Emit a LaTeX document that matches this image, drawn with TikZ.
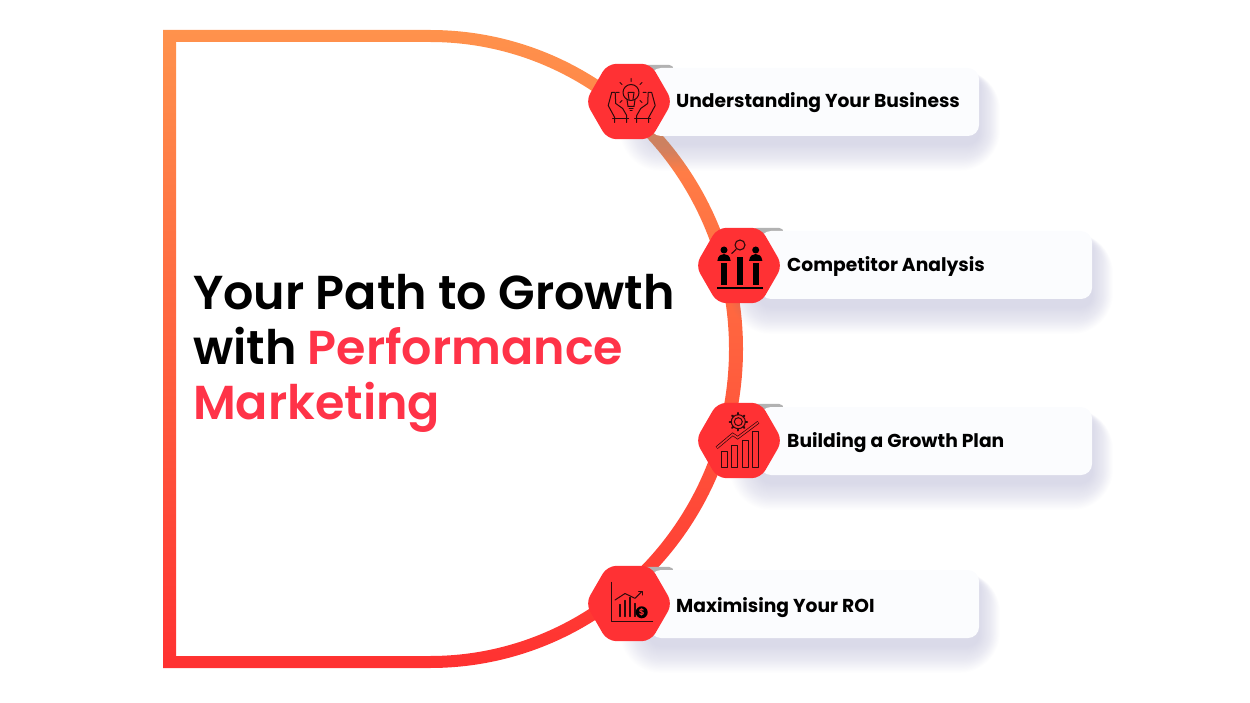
\documentclass[tikz,border=0pt]{standalone}
\usepackage{fontspec}
\setmainfont{Poppins}[BoldFont={Poppins SemiBold}]
\newfontfamily\labelfont{Poppins}[UprightFont={Poppins Bold}]
\usepackage{tikz}
\usetikzlibrary{shapes.geometric}
\usetikzlibrary{arrows,positioning,backgrounds}
\definecolor{ringtop}{RGB}{255,146,76}
\definecolor{ringbottom}{RGB}{255,49,49}
\definecolor{hexred}{RGB}{255,49,52}
\definecolor{titlered}{RGB}{255,51,72}
\definecolor{cardwhite}{RGB}{251,252,254}
\definecolor{shadowtone}{RGB}{130,130,180}
\definecolor{icondark}{RGB}{45,10,12}
\tikzset{
  hexa/.style={regular polygon,regular polygon sides=6,minimum size=87pt,inner sep=0pt,
    rounded corners=9pt,fill=hexred},
  card/.style={rounded corners=11pt,fill=cardwhite,inner sep=0pt,minimum height=68pt},
  cardtext/.style={font=\fontsize{18.7}{22}\labelfont,text=black,inner sep=0pt},
  iconline/.style={draw=icondark,line width=1pt,line cap=round,line join=round},
  iconsolid/.style={fill=black}
}
\newcommand{\cardshadow}[1]{%
  \foreach \g in {1,2,...,30}
    \fill[shadowtone,opacity=0.012,rounded corners=\g*1pt+11pt]
      ([shift={(-\g pt,-\g*0.9pt-8pt)}]#1.south west) rectangle ([shift={(\g*0.7pt,\g*0.2pt-8pt)}]#1.north east);
  \fill[black!30,rounded corners=5pt] ([shift={(-8pt,3pt)}]#1.north west) rectangle ([shift={(24pt,-8pt)}]#1.north west);
}
\begin{document}
\begin{tikzpicture}[x=1pt,y=-1pt]
  \useasboundingbox (0,0) rectangle (1250,703);
%
  \node[card,minimum width=329pt] (card1) at (814.5,102) {};
  \node[card,minimum width=332pt] (card2) at (926,265) {};
  \node[card,minimum width=332pt] (card3) at (926,441) {};
  \node[card,minimum width=329pt] (card4) at (814.5,604) {};
%
  \node[hexa] (hexa1) at (629,101.5) {};
  \node[hexa] (hexa2) at (739,265.5) {};
  \node[hexa] (hexa3) at (739,440.5) {};
  \node[hexa] (hexa4) at (629,603.5) {};
%
  \node[cardtext,anchor=base west] (label1) at (676,108) {Understanding Your Business};
  \node[cardtext,anchor=base west] (label2) at (787,271.5) {Competitor Analysis};
  \node[cardtext,anchor=base west] (label3) at (787,447.5) {Building a Growth Plan};
  \node[cardtext,anchor=base west] (label4) at (676,612) {Maximising Your ROI};
%
  \node[anchor=west,align=left,inner sep=0pt,font=\fontsize{47.6}{55}\selectfont\bfseries] (title) at (193,353.5)
    {Your Path to Growth\\with \textcolor{titlered}{Performance}\\\textcolor{titlered}{Marketing}};
%
  \begin{scope}[on background layer]
    \shade[top color=ringtop,bottom color=ringbottom,even odd rule]
      (163,30) -- (430,30) arc [start angle=90,end angle=-90,x radius=313pt,y radius=319pt]
      -- (163,668) -- cycle
      (176,42) -- (430,42) arc [start angle=90,end angle=-90,x radius=299pt,y radius=307pt]
      -- (176,656) -- cycle;
    \cardshadow{card1}
    \cardshadow{card2}
    \cardshadow{card3}
    \cardshadow{card4}
  \end{scope}
%
  % bulb and hands
  \begin{scope}[shift={(hexa1.center)}]
    \draw[iconline] (2,-9) circle (8);
    \draw[iconline] (-2,-2) -- (-1,5) -- (5,5) -- (6,-2);
    \draw[iconline] (-1,-9) -- (0,-2) (5,-9) -- (4,-2) (-1,-9) -- (5,-9);
    \draw[iconline] (0,7) -- (4,7) (1,9) -- (3,9);
    \draw[iconline] (2,-20) -- (2,-23) (-7,-17) -- (-9,-19) (11,-17) -- (13,-19)
      (-10,-9) -- (-13,-9) (14,-9) -- (17,-9) (-7,-1) -- (-9,1) (11,-1) -- (13,1);
    \foreach \s in {1,-1} {
      \begin{scope}[xshift=2.7pt,xscale=\s]
        \draw[iconline] (-20,-9) -- (-23.5,4) -- (-17,16) -- (-17,21);
        \draw[iconline] (-20,-9) -- (-16.5,-9) -- (-16,2) -- (-9,7) -- (-5,14) -- (-5,21);
        \draw[iconline] (-19,17) -- (-3,17);
      \end{scope}
    }
  \end{scope}
%
  % people and magnifier
  \begin{scope}[shift={(hexa2.center)}]
    \draw[iconline,line width=1.1pt] (1,-20.5) circle (5);
    \draw[iconline,line width=1.1pt] (-3,-16) -- (-7.3,-12);
    \foreach \px in {-15,16.7} {
      \fill[iconsolid] (\px,-15.5) circle (3.5);
      \fill[iconsolid] (\px-6.7,-4.5) .. controls (\px-6,-10) and (\px-3,-11.5) .. (\px,-11.5)
        .. controls (\px+3,-11.5) and (\px+6,-10) .. (\px+6.7,-4.5) -- cycle;
      \fill[iconsolid] (\px-3.2,-2) rectangle (\px+3.2,20);
    }
    \fill[iconsolid] (-2.3,-8) rectangle (3.7,20);
    \fill[iconsolid] (-22.3,21.7) rectangle (24.3,23.3);
  \end{scope}
%
  % gear, arrow and bars
  \begin{scope}[shift={(hexa3.center)}]
    \draw[iconline] (-0.7,-18.8) circle (4);
    \foreach \a in {0,45,...,315}
      \draw[iconline,line width=2pt] (-0.7,-18.8) ++(\a:7.2) -- ++(\a:1.6);
    \draw[iconline] (-0.7,-18.8) circle (7);
    \draw[draw=icondark,line width=3pt,line join=miter] (-22.3,7.2) -- (-6.3,-6.2) -- (-1.3,-2.8) -- (19.3,-18.2);
    \draw[draw=hexred,line width=1.6pt,line join=miter] (-22,7) -- (-6.3,-6.2) -- (-1.3,-2.8) -- (19,-18);
    \draw[iconline] (-17.3,10.5) rectangle (-11.3,27);
    \draw[iconline] (-7.3,4.5) rectangle (-1.3,27);
    \draw[iconline] (3.3,-0.5) rectangle (9.3,27);
    \draw[iconline] (13.7,-8.8) rectangle (19.7,27);
  \end{scope}
%
  % chart and coin
  \begin{scope}[shift={(hexa4.center)}]
    \draw[iconline] (-17.3,-21.2) -- (-17.3,18.2) -- (23.7,18.2);
    \draw[iconline] (-14,-3.5) -- (-4,-10) -- (6,-5.2) -- (12.7,-11.8);
    \draw[iconline] (9.5,-12) -- (13,-12) -- (13,-8.5);
    \foreach \bx/\by in {-9/1,-4/-3,1/-6,6/0}
      \draw[iconline,line width=1.3pt] (\bx,\by) -- (\bx,13);
    \node[circle,fill=black,minimum size=12pt,inner sep=0pt,text=hexred,font=\fontsize{9}{9}\selectfont\bfseries] (coin) at (12.7,8.8) {\$};
  \end{scope}
\end{tikzpicture}
\end{document}
